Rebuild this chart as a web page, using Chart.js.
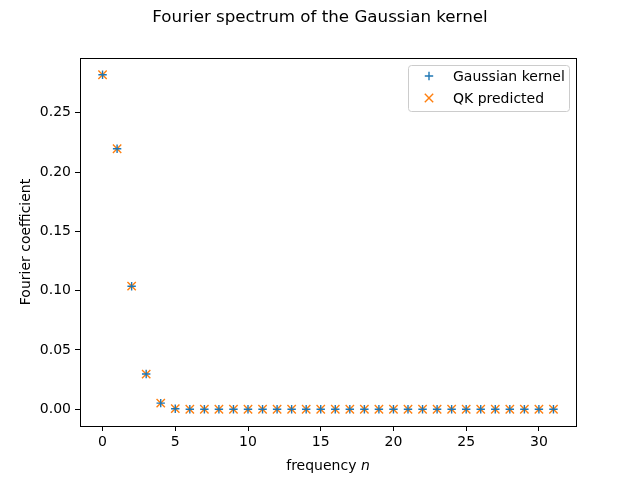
<!DOCTYPE html>
<html>
<head>
<meta charset="utf-8">
<script src="https://cdn.jsdelivr.net/npm/chart.js@4/dist/chart.umd.min.js"></script>
<style>
  html, body { margin: 0; padding: 0; background: #fff; }
  #wrap { width: 640px; height: 480px; }
</style>
</head>
<body>
<div id="wrap"><canvas id="spectrum"></canvas></div>
<script>
// frequencies n = 0..31
const freqs = [0,1,2,3,4,5,6,7,8,9,10,11,12,13,14,15,16,17,18,19,20,21,22,23,24,25,26,27,28,29,30,31];
// coefficients
const gaussianKernel = [0.2821, 0.2197, 0.1038, 0.0297, 0.0052, 0.0005, 0, 0, 0, 0, 0, 0, 0, 0, 0, 0,
                        0, 0, 0, 0, 0, 0, 0, 0, 0, 0, 0, 0, 0, 0, 0, 0];
const qkPredicted    = [0.2821, 0.2197, 0.1038, 0.0297, 0.0052, 0.0005, 0, 0, 0, 0, 0, 0, 0, 0, 0, 0,
                        0, 0, 0, 0, 0, 0, 0, 0, 0, 0, 0, 0, 0, 0, 0, 0];
const xTicks = [0, 5, 10, 15, 20, 25, 30];
const yTicks = [0, 0.05, 0.10, 0.15, 0.20, 0.25];
const chartTitle = 'Fourier spectrum of the Gaussian kernel';

const FONT = "'DejaVu Sans', sans-serif";

function pts(ys) {
    return freqs.map((n, i) => ({x: n, y: ys[i]}));
}

// title, frame round the plot, legend in the upper right, x title with italic n
const framePlugin = {
    id: 'frame',
    afterDraw(chart) {
        const ctx = chart.ctx;
        const a = chart.chartArea;
        ctx.save();

        ctx.fillStyle = '#000';
        ctx.font = '16.7px ' + FONT;
        ctx.textAlign = 'center';
        ctx.textBaseline = 'middle';
        ctx.fillText(chartTitle, chart.width / 2, 18);
        ctx.textAlign = 'left';

        ctx.strokeStyle = '#000';
        ctx.lineWidth = 1;
        ctx.strokeRect(Math.round(a.left) + 0.5, Math.round(a.top) + 0.5,
                       Math.round(a.right - a.left), Math.round(a.bottom - a.top));

        // legend box
        const bx = a.right - 168, by = a.top + 7, bw = 161, bh = 46;
        ctx.fillStyle = 'rgba(255,255,255,0.8)';
        ctx.strokeStyle = '#cccccc';
        ctx.beginPath();
        if (ctx.roundRect) ctx.roundRect(bx + 0.5, by + 0.5, bw, bh, 3); else ctx.rect(bx + 0.5, by + 0.5, bw, bh);
        ctx.fill();
        ctx.stroke();

        ctx.font = '14px ' + FONT;
        ctx.textBaseline = 'middle';
        chart.data.datasets.forEach((ds, i) => {
            const cy = by + 11 + i * 22;
            const cx = bx + 21;
            ctx.strokeStyle = ds.borderColor;
            ctx.lineWidth = 1.4;
            ctx.beginPath();
            if (ds.pointStyle === 'cross') {
                ctx.moveTo(cx - 4.2, cy); ctx.lineTo(cx + 4.2, cy);
                ctx.moveTo(cx, cy - 4.2); ctx.lineTo(cx, cy + 4.2);
            } else {
                ctx.moveTo(cx - 4.2, cy - 4.2); ctx.lineTo(cx + 4.2, cy + 4.2);
                ctx.moveTo(cx - 4.2, cy + 4.2); ctx.lineTo(cx + 4.2, cy - 4.2);
            }
            ctx.stroke();
            ctx.fillStyle = '#000';
            ctx.fillText(ds.label, bx + 45, cy + 1);
        });

        // x axis title with italic n
        const t1 = 'frequency ';
        ctx.font = '14px ' + FONT;
        const w1 = ctx.measureText(t1).width;
        ctx.font = 'italic 14px ' + FONT;
        const w2 = ctx.measureText('n').width;
        const sx = (a.left + a.right) / 2 - (w1 + w2) / 2;
        ctx.textBaseline = 'alphabetic';
        ctx.font = '14px ' + FONT;
        ctx.fillText(t1, sx, 470);
        ctx.font = 'italic 14px ' + FONT;
        ctx.fillText('n', sx + w1, 470);
        ctx.restore();
    }
};

document.addEventListener('DOMContentLoaded', () => {

    new Chart(document.getElementById('spectrum'), {
        type: 'scatter',
        data: {
            datasets: [{
                label: 'Gaussian kernel',
                data: pts(gaussianKernel),
                pointStyle: 'cross',
                radius: 4.2,
                borderWidth: 1.4,
                borderColor: '#1f77b4',
                backgroundColor: '#1f77b4'
            }, {
                label: 'QK predicted',
                data: pts(qkPredicted),
                pointStyle: 'crossRot',
                radius: 5.9,
                borderWidth: 1.4,
                borderColor: '#ff7f0e',
                backgroundColor: '#ff7f0e'
            }]
        },
        options: {
            responsive: true,
            maintainAspectRatio: false,
            animation: false,
            layout: { padding: { left: 0, right: 64, top: 58, bottom: 0 } },
            plugins: {
                legend: { display: false },
                tooltip: { enabled: false },
                title: { display: false }
            },
            scales: {
                x: {
                    type: 'linear',
                    min: -1.55,
                    max: 32.55,
                    afterBuildTicks: (s) => { s.ticks = xTicks.map(v => ({value: v})); },
                    afterFit: (s) => { s.height = 54; },
                    border: { display: false },
                    grid: { drawOnChartArea: false, drawTicks: true, tickLength: 5, color: '#000' },
                    ticks: {
                        color: '#000',
                        font: { family: FONT, size: 14 },
                        padding: 3,
                        maxRotation: 0,
                        callback: (v) => String(v)
                    }
                },
                y: {
                    type: 'linear',
                    min: -0.0141,
                    max: 0.2962,
                    afterBuildTicks: (s) => { s.ticks = yTicks.map(v => ({value: v})); },
                    afterFit: (s) => { s.width = 80; },
                    border: { display: false },
                    grid: { drawOnChartArea: false, drawTicks: true, tickLength: 5, color: '#000' },
                    ticks: {
                        color: '#000',
                        font: { family: FONT, size: 14 },
                        padding: 4,
                        callback: (v) => v.toFixed(2)
                    },
                    title: {
                        display: true,
                        text: 'Fourier coefficient',
                        color: '#000',
                        font: { family: FONT, size: 14 },
                        padding: { top: 18, bottom: 0 }
                    }
                }
            }
        },
        plugins: [framePlugin]
    });
});
</script>
</body>
</html>
